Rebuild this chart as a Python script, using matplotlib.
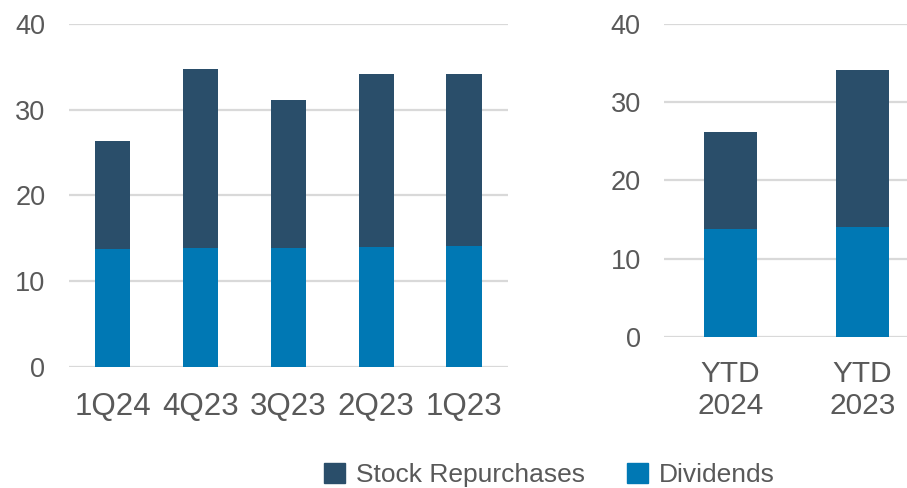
import matplotlib.pyplot as plt
from matplotlib.patches import Patch

plt.rcParams['font.family'] = ['Liberation Sans', 'DejaVu Sans']

quarters = ['1Q24', '4Q23', '3Q23', '2Q23', '1Q23']
q_dividends = [13.75, 13.8, 13.9, 14.0, 14.05]
q_buybacks = [12.55, 21.0, 17.25, 20.15, 20.15]

ytd_labels = ['YTD\n2024', 'YTD\n2023']
ytd_dividends = [13.75, 14.05]
ytd_buybacks = [12.45, 20.1]

c_buy = '#2A4E6A'
c_div = '#0078B4'
grid_c = '#D9D9D9'
text_c = '#595959'


def style(ax, xsize, xpad):
    ax.set_ylim(0, 40)
    ax.set_yticks([0, 10, 20, 30, 40])
    ax.yaxis.grid(True, color=grid_c, linewidth=1.6)
    ax.set_axisbelow(True)
    for s in ax.spines.values():
        s.set_visible(False)
    ax.tick_params(axis='y', length=0, pad=17, labelsize=19.5, labelcolor=text_c)
    ax.tick_params(axis='x', length=0, pad=xpad, labelsize=xsize, labelcolor=text_c)


fig = plt.figure(figsize=(9.07, 4.88), dpi=100)

ax1 = fig.add_axes([0.076, 0.2486, 0.484, 0.7022])
x1 = range(len(quarters))
ax1.bar(x1, q_dividends, width=0.4, color=c_div)
ax1.bar(x1, q_buybacks, width=0.4, bottom=q_dividends, color=c_buy)
ax1.set_xlim(-0.5, len(quarters) - 0.5)
ax1.set_xticks(list(x1))
ax1.set_xticklabels(quarters)
style(ax1, 22.5, 18)

ax2 = fig.add_axes([0.7326, 0.310, 0.291, 0.6408])
x2 = range(len(ytd_labels))
ax2.bar(x2, ytd_dividends, width=0.4, color=c_div)
ax2.bar(x2, ytd_buybacks, width=0.4, bottom=ytd_dividends, color=c_buy)
ax2.set_xlim(-0.5, len(ytd_labels) - 0.5)
ax2.set_xticks(list(x2))
ax2.set_xticklabels(ytd_labels, linespacing=1.15)
style(ax2, 21.5, 17)

handles = [Patch(color=c_buy, label='Stock Repurchases'),
           Patch(color=c_div, label='Dividends')]
fig.legend(handles=handles, loc='lower center', bbox_to_anchor=(0.606, -0.047),
           ncol=2, frameon=False, fontsize=19, labelcolor=text_c,
           handlelength=0.78, handleheight=0.78, handletextpad=0.42,
           columnspacing=1.6)

fig.savefig('out.png', dpi=100)
